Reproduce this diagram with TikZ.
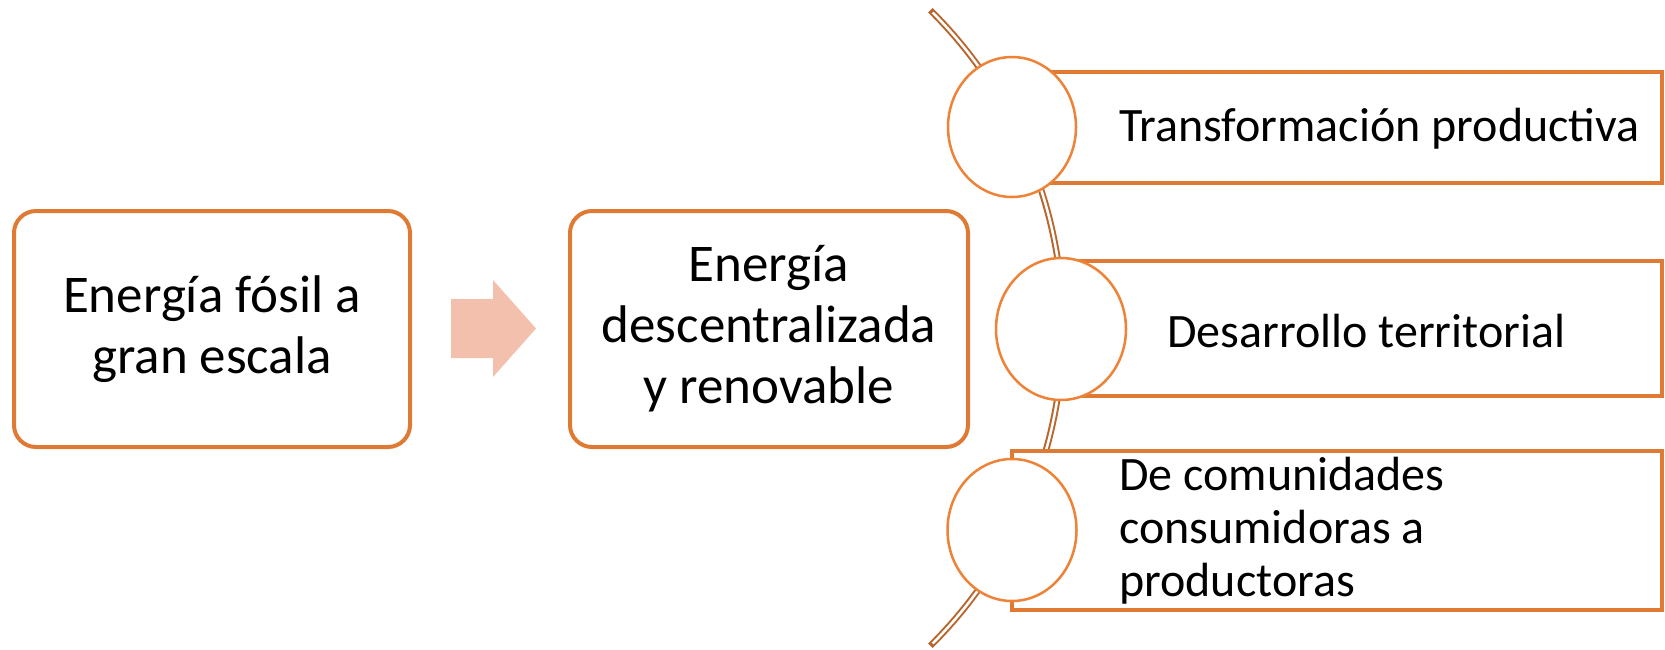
\documentclass[tikz,border=0pt]{standalone}
\usepackage{fontspec}
\setmainfont{Carlito}
\usetikzlibrary{shapes.geometric}
\definecolor{boxor}{HTML}{DF7A35}
\definecolor{circor}{HTML}{EE8236}
\definecolor{arcbr}{HTML}{B8662E}
\definecolor{arrowc}{HTML}{F4C0AE}
\tikzset{
  bigbox/.style={draw=boxor, line width=4pt, rounded corners=22pt, fill=white,
    align=center, inner sep=0pt, font=\fontsize{53}{61}\selectfont},
  listrect/.style={draw=boxor, line width=3.5pt, fill=white, inner sep=0pt},
  bullet/.style={ellipse, draw=circor, line width=2.5pt, fill=white, inner sep=0pt},
  itemtext/.style={anchor=west, inner sep=0pt, align=left, font=\fontsize{48}{53}\selectfont},
}
\begin{document}
\begin{tikzpicture}[x=1pt,y=-1pt]
\useasboundingbox (0,0) rectangle (1665,649);
% left boxes
\node[bigbox, minimum width=396pt, minimum height=236pt] (b1) at (212,329) {Energía fósil a\\gran escala};
\node[bigbox, minimum width=398pt, minimum height=236pt] (b2) at (769,329) {Energía\\descentralizada\\y renovable};
% block arrow
\fill[arrowc] (451,299) -- (493,299) -- (493,280) -- (536,328.5) -- (493,377) -- (493,358) -- (451,358) -- cycle;
% curved spine
\draw[arcbr, line width=6.5pt] (616,328) ++(-45.3:447) arc[start angle=-45.3, end angle=45.3, radius=447];
\draw[white, line width=2.5pt] (616,328) ++(-44.9:447) arc[start angle=-44.9, end angle=44.9, radius=447];
% list rectangles
\node[listrect, minimum width=650pt, minimum height=111pt] (r1) at (1337,127.5) {};
\node[listrect, minimum width=600pt, minimum height=135pt] (r2) at (1362,328.5) {};
\node[listrect, minimum width=650pt, minimum height=159pt] (r3) at (1337,530.5) {};
% circles
\node[bullet, minimum width=128pt, minimum height=140pt] (c1) at (1012,127) {};
\node[bullet, minimum width=130pt, minimum height=142pt] (c2) at (1061,329) {};
\node[bullet, minimum width=129pt, minimum height=142pt] (c3) at (1012,530) {};
% texts
\node[itemtext] (t1) at (1119,129) {Transformación productiva};
\node[itemtext] (t2) at (1167,331) {Desarrollo territorial};
\node[itemtext] (t3) at (1119,531) {De comunidades\\consumidoras a\\productoras};
\end{tikzpicture}
\end{document}
